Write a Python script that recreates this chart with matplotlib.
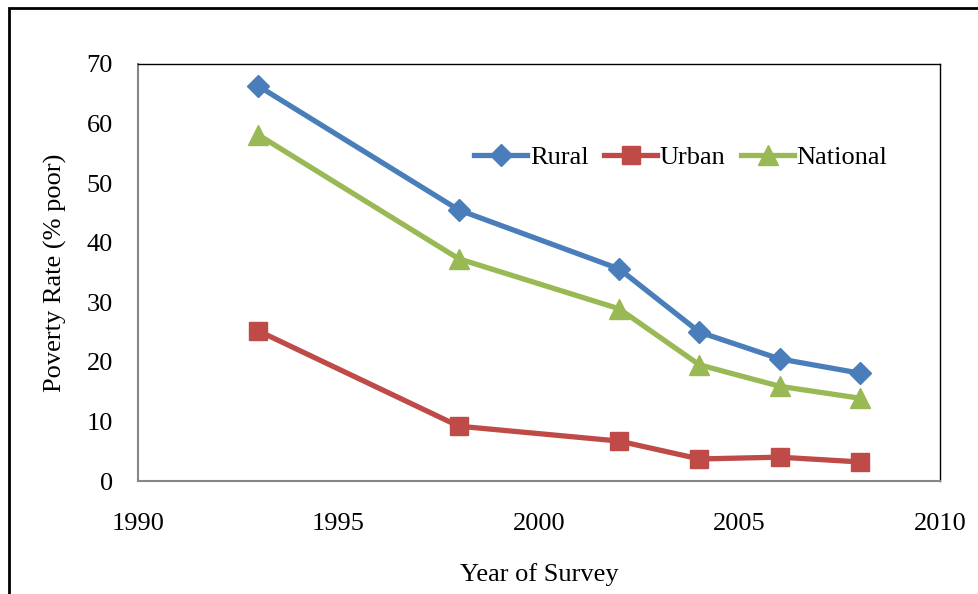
import matplotlib
matplotlib.use("Agg")
import matplotlib.pyplot as plt
from matplotlib.patches import Rectangle

# Poverty rates by year of survey
years = [1993, 1998, 2002, 2004, 2006, 2008]
rural = [66.3, 45.5, 35.6, 25.0, 20.5, 18.1]
urban = [25.2, 9.2, 6.7, 3.7, 4.0, 3.2]
national = [58.1, 37.3, 28.9, 19.5, 15.9, 13.9]

x_ticks = [1990, 1995, 2000, 2005, 2010]
y_ticks = [0, 10, 20, 30, 40, 50, 60, 70]

plt.rcParams['font.family'] = ['Liberation Serif', 'DejaVu Serif']
FS = 19

fig = plt.figure(figsize=(9.79, 5.94), dpi=100)
ax = fig.add_axes([138 / 979, 1 - 481 / 594, (940 - 138) / 979, (481 - 64) / 594])

ax.plot(years, rural, color='#4A7EBB', lw=3.8, marker='D', ms=11, label='Rural')
ax.plot(years, urban, color='#BE4B48', lw=3.8, marker='s', ms=13, label='Urban')
ax.plot(years, national, color='#98B954', lw=3.8, marker='^', ms=14, label='National')

ax.set_xlim(1990, 2010)
ax.set_ylim(0, 70)
ax.set_xticks(x_ticks)
ax.set_yticks(y_ticks)
ax.tick_params(axis='both', length=0, labelsize=FS)
ax.tick_params(axis='x', pad=23)
ax.tick_params(axis='y', pad=18)

for side in ('left', 'bottom'):
    ax.spines[side].set_color('#868686')
    ax.spines[side].set_linewidth(1.5)
for side in ('top', 'right'):
    ax.spines[side].set_color('#000000')
    ax.spines[side].set_linewidth(1.0)

ax.set_xlabel('Year of Survey', fontsize=FS)
ax.set_ylabel('Poverty Rate (% poor)', fontsize=FS)
ax.xaxis.set_label_coords(0.5, (481 - 563) / 417)
ax.yaxis.set_label_coords((67 - 138) / 802, 0.5)

ax.legend(loc='center', bbox_to_anchor=((681 - 138) / (940 - 138), (481 - 157) / (481 - 64)),
          ncol=3, frameon=False, fontsize=FS, handlelength=2.0, handletextpad=0.1,
          columnspacing=0.6, borderaxespad=0)

# outer chart border
fig.patches.append(Rectangle((9 / 979, -0.05), 1.1, 1 - 8 / 594 + 0.05,
                             transform=fig.transFigure, fill=False,
                             edgecolor='black', linewidth=2, clip_on=False))

fig.savefig('out.png', dpi=100)
